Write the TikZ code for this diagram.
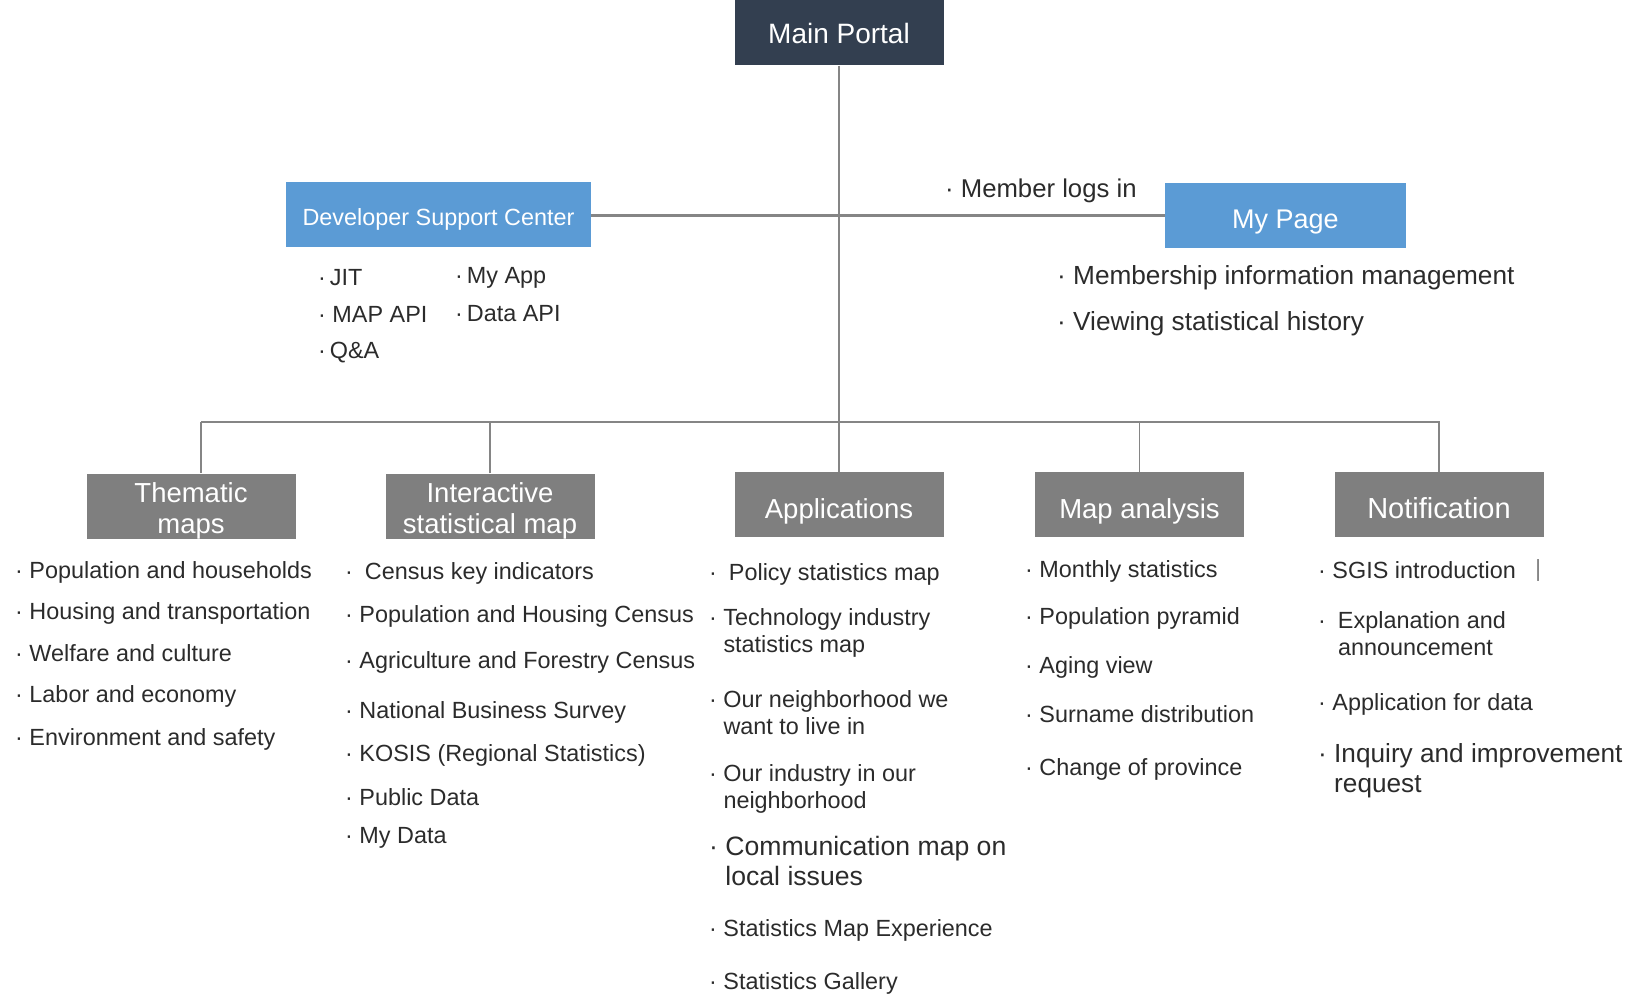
\documentclass[tikz,border=0pt]{standalone}
\usepackage{fontspec}
\setmainfont{Liberation Sans}
\usetikzlibrary{positioning}

\definecolor{portalnavy}{HTML}{333F50}
\definecolor{devblue}{HTML}{5B9BD5}
\definecolor{menugray}{HTML}{7F7F7F}
\definecolor{itemtext}{HTML}{2B2B2B}
\definecolor{linegray}{HTML}{858585}

% indent of a continued line, after the bullet
\newcommand{\contind}{\hphantom{·\ }}
% lowers the first line of a two-line box label
\newcommand{\boxlift}{\rule{0pt}{29pt}}

\tikzset{
    topbox/.style={fill=portalnavy, text=white, minimum width=209pt, minimum height=65pt,
        inner sep=0pt, font=\fontsize{28}{31}\selectfont},
    bluebox/.style={fill=devblue, text=white, minimum height=65pt, inner sep=0pt,
        text depth=0pt},
    boxbase/.style={fill=menugray, text=white, minimum width=209pt, minimum height=65pt,
        inner sep=0pt, align=center, font=\fontsize{27.5}{31}\selectfont},
    menubox/.style={boxbase, text height=28.5pt, text depth=0pt},
    item/.style={anchor=west, inner sep=0pt, text=itemtext, align=left,
        font=\fontsize{23.4}{27}\selectfont},
    bigitem/.style={item, font=\fontsize{26.2}{30.5}\selectfont},
    link/.style={draw=linegray, line width=1.2pt},
}

\begin{document}
\begin{tikzpicture}[x=1pt,y=-1pt]
    \useasboundingbox (0,0) rectangle (1643,1008);

    % portal and second level
    \node[topbox] (portal) at (839,33) {Main Portal};
    \node[bluebox, minimum width=305pt, text height=22.5pt, font=\fontsize{23.4}{27}\selectfont] (dev) at (438.5,214.5) {Developer Support Center};
    \node[bluebox, minimum width=241pt, text height=26.5pt, font=\fontsize{27}{30}\selectfont] (mypage) at (1285.5,215.5) {My Page};

    % menu boxes
    \node[boxbase] (thm) at (191,506.5) {\boxlift Thematic\\maps};
    \node[boxbase] (inter) at (490,506.5) {\boxlift Interactive\\statistical map};
    \node[menubox] (apps) at (839,504.5) {Applications};
    \node[menubox] (mapan) at (1139.5,504.5) {Map analysis};
    \node[menubox, font=\fontsize{29}{31}\selectfont] (notif) at (1439,504.5) {Notification};

    % connectors
    \coordinate (bus-l) at (201,422);
    \coordinate (bus-r) at (1440,422);
    \draw[link] (portal) -- (apps);
    \draw[link, line width=2.2pt] (mypage.west -| dev.east) -- (mypage.west);
    \draw[link] (bus-l) -- (bus-r);
    \draw[link] (bus-l) -- (bus-l |- thm.north);
    \foreach \b in {inter, mapan, notif}
        \draw[link] (\b.north) -- (\b.north |- bus-l);

    % developer support center
    \foreach \x/\yy/\lab [count=\i] in {
        318/278/{·\,JIT},
        455/278/{·\,My App},
        318/314/{· MAP API},
        455/314/{·\,Data API},
        318/353/{·\,Q\&A}
    }{
        \node[item] (dev-\i) at (\x,\yy) {\lab};
    }

    % my page
    \node[bigitem, font=\fontsize{25.7}{30}\selectfont] (login) at (945,191) {· Member logs in};
    \node[bigitem] (mp-1) at (1057,278) {· Membership information management};
    \node[bigitem] (mp-2) at (1057,324) {· Viewing statistical history};

    % thematic maps
    \foreach \yy/\lab [count=\i] in {
        572/{Population and households},
        613/{Housing and transportation},
        653/{Welfare and culture},
        696/{Labor and economy},
        739/{Environment and safety}
    }{
        \node[item] (thm-\i) at (15,\yy) {· \lab};
    }

    % interactive statistical map
    \foreach \yy/\lab [count=\i] in {
        573/{·\hspace{12pt}Census key indicators},
        616/{· Population and Housing Census},
        662/{· Agriculture and Forestry Census},
        712/{· National Business Survey},
        755/{· KOSIS (Regional Statistics)},
        797/{· Public Data},
        838/{· My Data}
    }{
        \node[item] (inter-\i) at (345,\yy) {\lab};
    }

    % applications
    \foreach \yy/\lab [count=\i] in {
        574/{·\hspace{12pt}Policy statistics map},
        632.5/{· Technology industry\\\contind statistics map},
        713/{· Our neighborhood we\\\contind want to live in},
        788.5/{· Our industry in our\\\contind neighborhood},
        930/{· Statistics Map Experience},
        983/{· Statistics Gallery}
    }{
        \node[item] (apps-\i) at (709,\yy) {\lab};
    }
    \node[bigitem, font=\fontsize{26.6}{30.5}\selectfont] (apps-comm) at (709,861) {· Communication map on\\\contind local issues};

    % map analysis
    \foreach \yy/\lab [count=\i] in {
        571/{Monthly statistics},
        618/{Population pyramid},
        667/{Aging view},
        714/{Surname distribution},
        769/{Change of province}
    }{
        \node[item] (mapan-\i) at (1025,\yy) {· \lab};
    }

    % notification
    \foreach \yy/\lab [count=\i] in {
        570/{· SGIS introduction},
        633.5/{·\hspace{12pt}Explanation and\\\hphantom{·\hspace{12pt}}announcement},
        704/{· Application for data}
    }{
        \node[item] (notif-\i) at (1318,\yy) {\lab};
    }
    \node[bigitem] (notif-inq) at (1318,770.5) {· Inquiry and improvement\\\contind request};
    \node[item, text=linegray] (notif-bar) at (1535,570) {|};
\end{tikzpicture}
\end{document}
